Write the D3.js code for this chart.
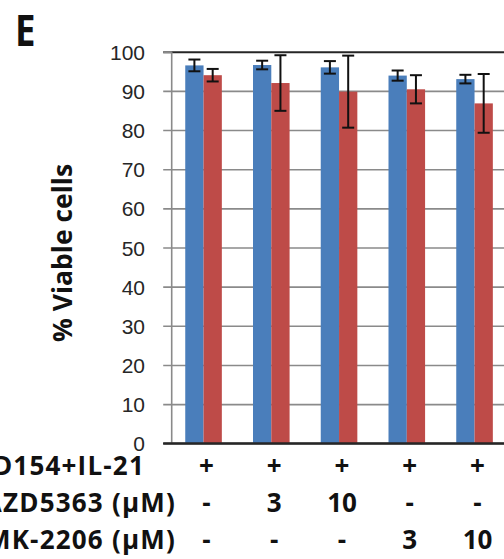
<!DOCTYPE html>
<html>
<head>
<meta charset="utf-8">
<script src="https://cdn.jsdelivr.net/npm/d3@7"></script>
<style>
  html, body { margin: 0; padding: 0; background: #fff; overflow: hidden; }
  svg { display: block; }
</style>
</head>
<body>
<svg id="chart" width="504" height="559"></svg>
<script>
// ---- data ----
const groups = ["g1", "g2", "g3", "g4", "g5"];
const blueValues = [96.5, 96.6, 96.0, 93.9, 93.0];
const blueErrors = [1.5, 1.1, 1.6, 1.3, 1.1];
const redValues = [94.0, 92.0, 89.8, 90.4, 86.8];
const redErrors = [1.6, 7.1, 9.2, 3.6, 7.5];
const yTickValues = [0, 10, 20, 30, 40, 50, 60, 70, 80, 90, 100];
const rowLabels = ["CD154+IL-21", "AZD5363 (\u00b5M)", "MK-2206 (\u00b5M)"];
const rowCD154 = ["+", "+", "+", "+", "+"];
const rowAZD = ["-", "3", "10", "-", "-"];
const rowMK = ["-", "-", "-", "3", "10"];
const yTitle = "% Viable cells";
const panelLetter = "E";

// ---- layout ----
const svg = d3.select("#chart");
const plotLeft = 171.7, plotTop = 51.7, plotBottom = 443.3;
const step = 67.75;
const pInner = 0.46, pOuter = 0.2;
const plotRight = plotLeft + step * (groups.length - pInner + 2 * pOuter);

const x = d3.scaleBand().domain(groups).range([plotLeft, plotRight])
  .paddingInner(pInner).paddingOuter(pOuter);
const sub = d3.scaleBand().domain(["blue", "red"]).range([0, x.bandwidth()]);
const y = d3.scaleLinear().domain([0, 100]).range([plotBottom, plotTop]);

const colors = { blue: "#4A7EBB", red: "#BE4B48" };

// gridlines + y axis
const yAxis = d3.axisLeft(y).tickValues(yTickValues).tickSize(0).tickPadding(0).tickFormat(d3.format("d"));
const gy = svg.append("g").attr("transform", `translate(${plotLeft},0)`).call(yAxis);
gy.select(".domain").remove();
gy.selectAll(".tick text")
  .attr("x", -(plotLeft - 145))
  .attr("dy", "0.36em")
  .style("font-family", "'Liberation Sans', Arial, sans-serif")
  .style("font-size", "21px")
  .attr("fill", "#262626");
gy.selectAll(".tick").append("line")
  .attr("x1", -8.5).attr("x2", 504 - plotLeft + 20)
  .attr("stroke", d => (d === 0 || d === 100) ? "#262626" : "#8a8a8a")
  .attr("stroke-width", d => (d === 0 || d === 100) ? 2 : 1.6);
gy.selectAll(".tick").filter(d => d === 100).append("line")
  .attr("x1", -8.5).attr("x2", 0).attr("stroke", "#8a8a8a").attr("stroke-width", 2);

// y axis line (gray)
svg.append("line")
  .attr("x1", plotLeft).attr("x2", plotLeft)
  .attr("y1", y(100)).attr("y2", y(0))
  .attr("stroke", "#8a8a8a").attr("stroke-width", 1.6);

// bars
const data = groups.map((g, i) => ({
  g,
  series: [
    { key: "blue", value: blueValues[i], err: blueErrors[i] },
    { key: "red", value: redValues[i], err: redErrors[i] }
  ]
}));

const gg = svg.append("g").selectAll("g").data(data).join("g")
  .attr("transform", d => `translate(${x(d.g)},0)`);

gg.selectAll("rect").data(d => d.series).join("rect")
  .attr("x", d => sub(d.key))
  .attr("width", sub.bandwidth())
  .attr("y", d => y(d.value))
  .attr("height", d => y(0) - y(d.value))
  .attr("fill", d => colors[d.key]);

// x axis line on top of bar bottoms
svg.append("line")
  .attr("x1", plotLeft - 8.5).attr("x2", 520)
  .attr("y1", y(0)).attr("y2", y(0))
  .attr("stroke", "#262626").attr("stroke-width", 2);

// error bars
const cap = 6;
const eb = gg.selectAll("g.err").data(d => d.series).join("g").attr("class", "err")
  .attr("transform", d => `translate(${sub(d.key) + sub.bandwidth() / 2},0)`);
eb.append("line")
  .attr("x1", 0).attr("x2", 0)
  .attr("y1", d => y(d.value + d.err)).attr("y2", d => y(d.value - d.err));
eb.append("line")
  .attr("x1", -cap).attr("x2", cap)
  .attr("y1", d => y(d.value + d.err)).attr("y2", d => y(d.value + d.err));
eb.append("line")
  .attr("x1", -cap).attr("x2", cap)
  .attr("y1", d => y(d.value - d.err)).attr("y2", d => y(d.value - d.err));
eb.selectAll("line").attr("stroke", "#111").attr("stroke-width", 2);

// y title
svg.append("text")
  .attr("transform", `translate(71.5,${(163 + 343) / 2}) rotate(-90)`)
  .attr("text-anchor", "middle")
  .style("font-family", "'Open Sans', sans-serif")
  .style("font-weight", "bold")
  .style("font-size", "26.5px")
  .attr("fill", "#111")
  .text(yTitle);

// panel letter
svg.append("text")
  .attr("transform", "translate(15,46) scale(0.85,1)")
  .style("font-family", "'Open Sans', sans-serif")
  .style("font-weight", "bold")
  .style("font-size", "43px")
  .attr("fill", "#111")
  .text(panelLetter);

// condition table
const rows = [rowCD154, rowAZD, rowMK];
const rowBaselines = [475, 512, 549];
const rowLabelEnds = [145, 176, 176];
const tableFont = "'Open Sans', sans-serif";
rows.forEach((row, r) => {
  svg.append("text")
    .attr("x", rowLabelEnds[r]).attr("y", rowBaselines[r])
    .attr("text-anchor", "end")
    .style("font-family", tableFont).style("font-weight", "bold").style("font-size", "26px")
    .style("letter-spacing", "1.2px")
    .attr("fill", "#111")
    .text(rowLabels[r]);
  svg.append("g").selectAll("text").data(row).join("text")
    .attr("x", (d, i) => x(groups[i]) + x.bandwidth() / 2 + 3)
    .attr("y", rowBaselines[r])
    .attr("text-anchor", "middle")
    .style("font-family", tableFont).style("font-weight", "bold").style("font-size", "26px")
    .attr("fill", "#111")
    .text(d => d);
});
</script>
</body>
</html>
